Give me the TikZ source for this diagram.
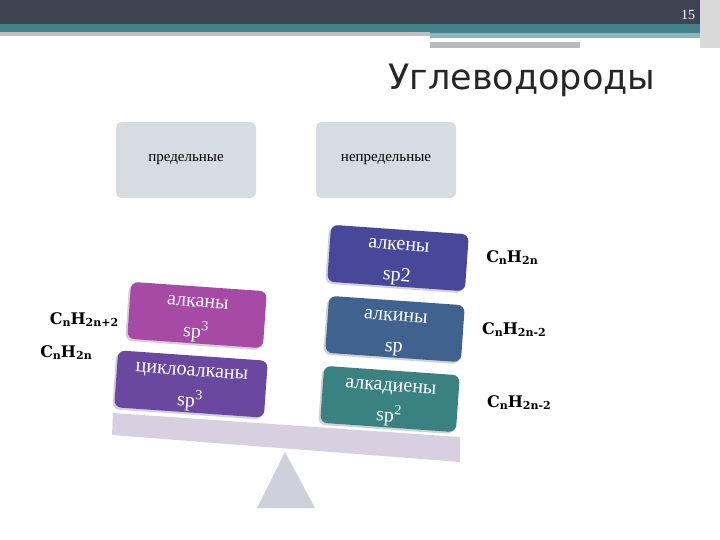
\documentclass[tikz,border=0pt]{standalone}
\usepackage{fontspec}
\setmainfont{Liberation Serif}
\newfontfamily\ttl{DejaVu Sans}
\newfontfamily\fmf{DejaVu Serif}
\usetikzlibrary{shadows}
\newcommand{\sbs}[1]{\raisebox{-2pt}{\fontsize{11}{12}\selectfont #1}}
\begin{document}
\begin{tikzpicture}[x=1pt,y=-1pt,
 grp/.style={fill=bxg,rounded corners=6pt,minimum width=140pt,minimum height=76pt,font=\fontsize{15}{18}\selectfont,text=black},
 tilt/.style={rounded corners=7pt,minimum height=57pt,minimum width=136pt,inner ysep=0pt,rotate=-4,text=white,align=center,font=\fontsize{20}{31}\selectfont,drop shadow={opacity=0.35,shadow xshift=-2pt,shadow yshift=-2pt}},
 fm/.style={font=\fmf\bfseries\fontsize{16}{20}\selectfont}]
\definecolor{bxg}{HTML}{D5DCE2}
\definecolor{dark}{HTML}{3F4352}
\definecolor{teal1}{HTML}{44818A}
\definecolor{beam}{HTML}{D8D0E0}
\definecolor{tri}{HTML}{D0D0DC}
\definecolor{ck}{HTML}{A64AA6}
\definecolor{cc}{HTML}{6A48A0}
\definecolor{ce}{HTML}{48489A}
\definecolor{ci}{HTML}{40628F}
\definecolor{cd}{HTML}{3A8282}
\useasboundingbox (0,0) rectangle (720,540);
\fill[white] (0,0) rectangle (720,540);
\fill[dark] (0,0) rectangle (720,24);
\fill[teal1] (0,24) rectangle (705,33);
\fill[gray!50] (0,32) rectangle (430,36);
\fill[teal1!60] (430,33) rectangle (705,38);
\fill[white] (432,38) rectangle (680,42);
\fill[gray!55] (430,42) rectangle (580,48);
\fill[gray!30] (700,0) rectangle (720,48);
\node[text=white,font=\fontsize{14}{16}\selectfont] (pg) at (688,15) {15};
\node[font=\ttl\fontsize{35}{40}\selectfont,text=black!85] (title) at (522,80) {Углеводороды};
\node[grp] (pr) at (186,160) {предельные};
\node[grp] (np) at (386,160) {непредельные};
\fill[beam] (113,413) -- (460,437) -- (460,462) -- (112,435) -- cycle;
\fill[tri] (285,452) -- (315,508) -- (257,508) -- cycle;
\node[tilt,fill=ck] (alk) at (197,315) {\rule{0pt}{19pt}алканы\\sp\textsuperscript{3}};
\node[tilt,fill=cc,minimum width=150pt] (cyc) at (191,384) {\rule{0pt}{19pt}циклоалканы\\sp\textsuperscript{3}};
\node[tilt,fill=ce,minimum width=138pt] (ene) at (398,258) {\rule{0pt}{19pt}алкены\\sp2};
\node[tilt,fill=ci] (ine) at (395,329) {\rule{0pt}{19pt}алкины\\sp};
\node[tilt,fill=cd] (die) at (390,399) {\rule{0pt}{19pt}алкадиены\\sp\textsuperscript{2}};
\node[fm] (f1) at (84,320) {C\sbs{n}H\sbs{2n+2}};
\node[fm] (f2) at (66,353) {C\sbs{n}H\sbs{2n}};
\node[fm] (f3) at (512,258) {C\sbs{n}H\sbs{2n}};
\node[fm] (f4) at (514,330) {C\sbs{n}H\sbs{2n-2}};
\node[fm] (f5) at (519,403) {C\sbs{n}H\sbs{2n-2}};
\end{tikzpicture}
\end{document}
